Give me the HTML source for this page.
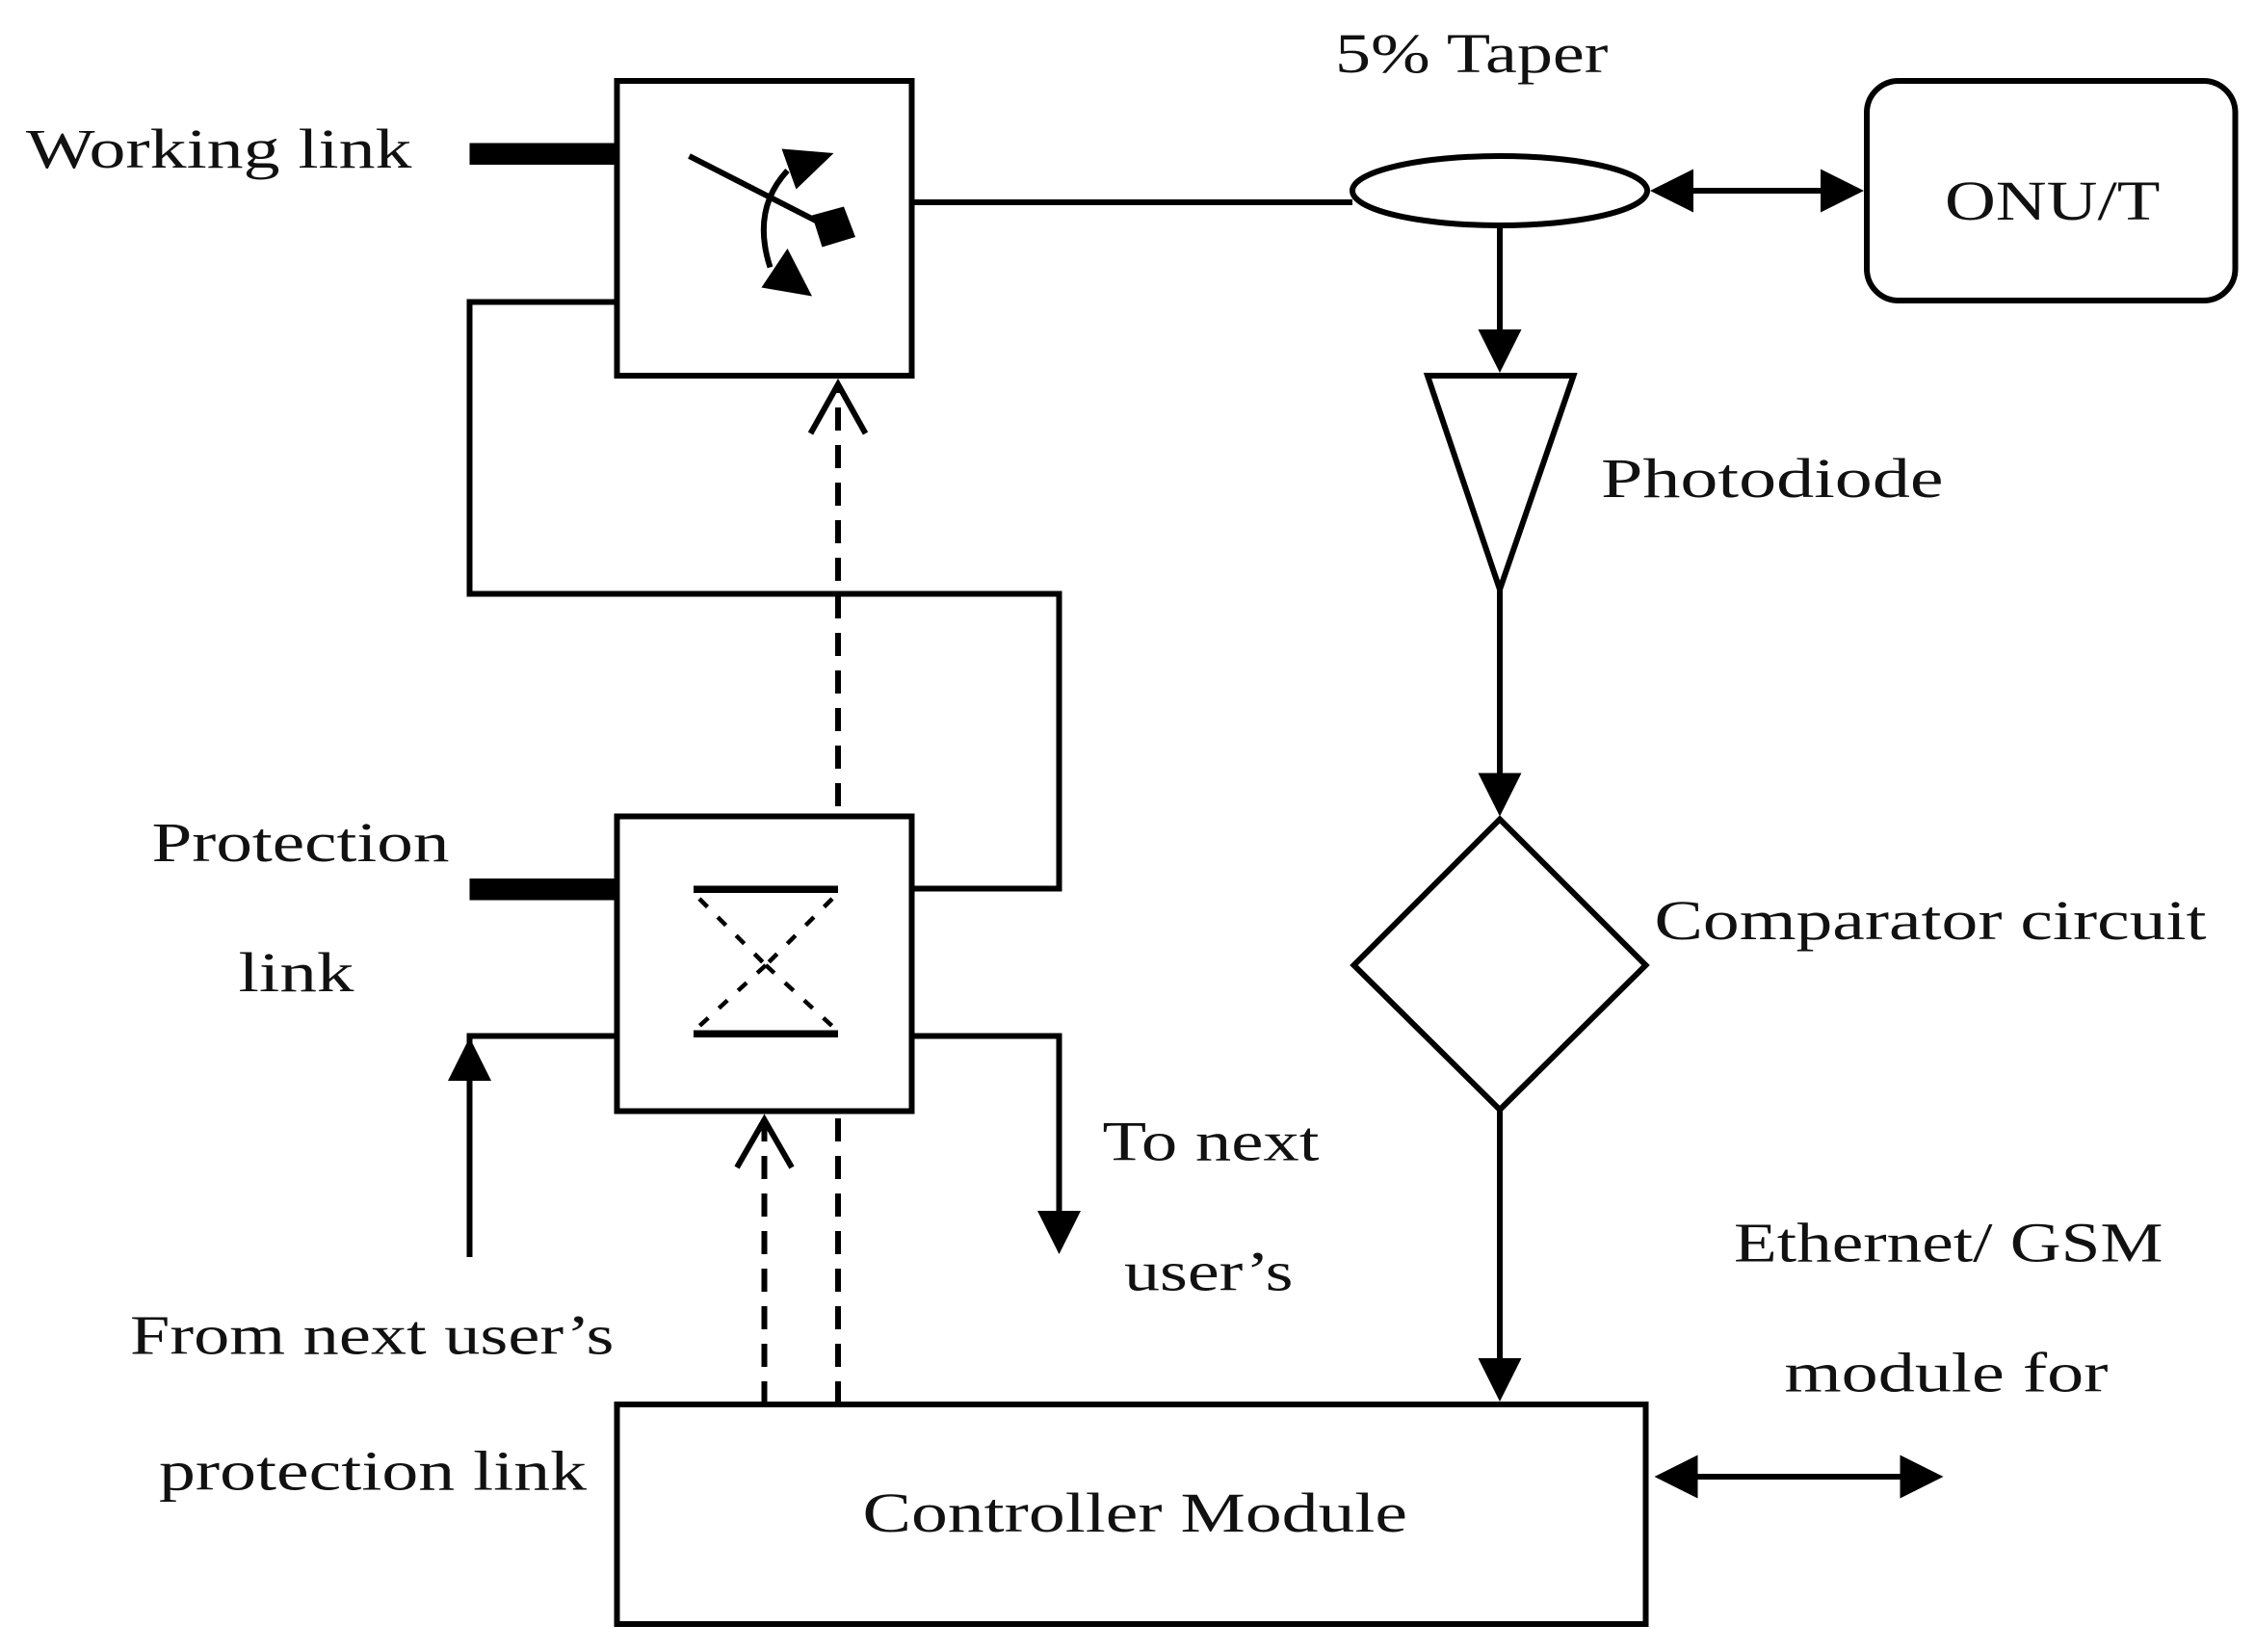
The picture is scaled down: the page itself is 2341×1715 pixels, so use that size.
<!DOCTYPE html>
<html><head><meta charset="utf-8"><style>
html,body{margin:0;padding:0;background:#fff;}
svg{display:block;}
text{font-family:"Liberation Serif",serif;font-size:39px;fill:#111;}
</style></head><body>
<svg width="2341" height="1715" viewBox="0 0 1560.67 1143.33" xmlns="http://www.w3.org/2000/svg">
<g fill="none" stroke="#000" stroke-width="4">
<rect x="427" y="56" width="204" height="204"/>
<rect x="427" y="565" width="204" height="204"/>
<rect x="427" y="972" width="712" height="152"/>
<rect x="1292" y="56" width="255" height="152" rx="22"/>
<ellipse cx="1038" cy="132" rx="102" ry="24"/>
<polygon points="988,260 1089,260 1038,408"/>
<polygon points="1038,567 1139,668 1038,768 937,668"/>
<line x1="631" y1="140" x2="936" y2="140"/>
<polyline points="427,209 325,209 325,411 733,411 733,615 631,615"/>
<polyline points="631,717 733,717 733,840"/>
<polyline points="427,717 325,717 325,870" />
<line x1="1038" y1="156" x2="1038" y2="232"/>
<line x1="1038" y1="408" x2="1038" y2="538"/>
<line x1="1038" y1="768" x2="1038" y2="942"/>
<line x1="1165" y1="132" x2="1262" y2="132"/>
<line x1="1170" y1="1022" x2="1315" y2="1022"/>
<g stroke-dasharray="16,10">
<line x1="580" y1="972" x2="580" y2="769"/>
<line x1="580" y1="558" x2="580" y2="266"/>
<line x1="529" y1="972" x2="529" y2="775"/>
</g>
<polyline points="561,300 580,266 599,300"/>
<polyline points="510,808 529,775 548,808"/>
<line x1="477" y1="108" x2="575" y2="158"/>
<path d="M545,118 Q520,145 533,185"/>
</g>
<rect x="325" y="99" width="102" height="15" fill="#000"/>
<rect x="325" y="608" width="102" height="15" fill="#000"/>
<g fill="#000">
<polygon points="1023,228 1053,228 1038,258"/>
<polygon points="1023,535 1053,535 1038,565"/>
<polygon points="1023,940 1053,940 1038,970"/>
<polygon points="718,838 748,838 733,868"/>
<polygon points="310,748 340,748 325,718"/>
<polygon points="1142,132 1172,117 1172,147"/>
<polygon points="1290,132 1260,117 1260,147"/>
<polygon points="1145,1022 1175,1007 1175,1037"/>
<polygon points="1345,1022 1315,1007 1315,1037"/>
<polygon points="541,103 577,106 551,131"/>
<polygon points="527,199 545,172 562,205"/>
<polygon points="562,149 584,143 592,164 569,171"/>
<rect x="480" y="613" width="100" height="5"/>
<rect x="480" y="713" width="100" height="5"/>
</g>
<g stroke="#000" stroke-width="3" stroke-dasharray="8,10">
<line x1="484" y1="622" x2="530" y2="668"/>
<line x1="576" y1="622" x2="530" y2="668"/>
<line x1="530" y1="668" x2="482" y2="712"/>
<line x1="530" y1="668" x2="578" y2="712"/>
</g>
<text x="18" y="116" textLength="267" lengthAdjust="spacingAndGlyphs">Working link</text>
<text x="924" y="50" textLength="189" lengthAdjust="spacingAndGlyphs">5% Taper</text>
<text x="1346" y="152" textLength="149" lengthAdjust="spacingAndGlyphs">ONU/T</text>
<text x="1108" y="344" textLength="237" lengthAdjust="spacingAndGlyphs">Photodiode</text>
<text x="105" y="596" textLength="206" lengthAdjust="spacingAndGlyphs">Protection</text>
<text x="165" y="686" textLength="80" lengthAdjust="spacingAndGlyphs">link</text>
<text x="1145" y="650" textLength="382" lengthAdjust="spacingAndGlyphs">Comparator circuit</text>
<text x="763" y="803" textLength="150" lengthAdjust="spacingAndGlyphs">To next</text>
<text x="778" y="893" textLength="117" lengthAdjust="spacingAndGlyphs">user’s</text>
<text x="1200" y="873" textLength="297" lengthAdjust="spacingAndGlyphs">Ethernet/ GSM</text>
<text x="1235" y="963" textLength="224" lengthAdjust="spacingAndGlyphs">module for</text>
<text x="90" y="937" textLength="335" lengthAdjust="spacingAndGlyphs">From next user’s</text>
<text x="110" y="1031" textLength="296" lengthAdjust="spacingAndGlyphs">protection link</text>
<text x="597" y="1060" textLength="377" lengthAdjust="spacingAndGlyphs">Controller Module</text>
</svg>
</body></html>
